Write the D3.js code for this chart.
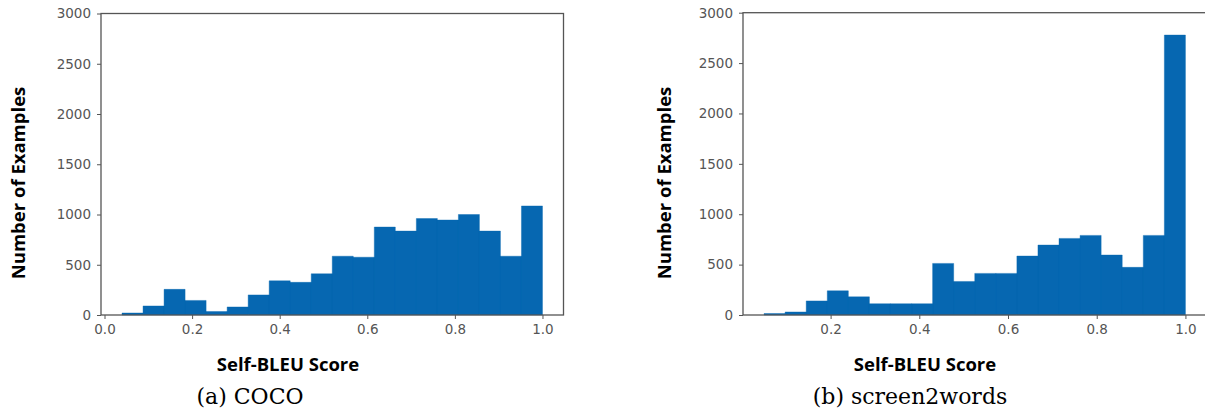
<!DOCTYPE html>
<html>
<head>
<meta charset="utf-8">
<script src="https://cdn.jsdelivr.net/npm/d3@7"></script>
<style>
  body { margin: 0; background: #fff; }
  .tick text { font-family: "DejaVu Sans", sans-serif; font-size: 13.5px; fill: #555; }
  .tick line { stroke: #555; }
  .domain { display: none; }
  .axlabel { font-family: "Open Sans", sans-serif; font-weight: 700; font-size: 18.5px; fill: #000; }
  .caption { font-family: "DejaVu Serif", "Liberation Serif", serif; font-size: 22px; fill: #000; }
</style>
</head>
<body>
<svg id="chart" width="1205" height="415"></svg>
<script>
// histogram counts (20 bins each)
var cocoCounts = [20, 90, 255, 145, 35, 80, 200, 340, 325, 410, 585, 575, 875, 835, 960, 945, 1000, 835, 585, 1085];
var cocoRange = [0.04, 1.0];
var s2wCounts = [15, 30, 140, 240, 180, 112, 112, 112, 512, 333, 413, 413, 585, 694, 760, 790, 595, 473, 790, 2778];
var s2wRange = [0.05, 1.0];

var yTicks = [0, 500, 1000, 1500, 2000, 2500, 3000];
var cocoXTicks = [0.0, 0.2, 0.4, 0.6, 0.8, 1.0];
var s2wXTicks = [0.2, 0.4, 0.6, 0.8, 1.0];

var xLabel = "Self-BLEU Score";
var yLabel = "Number of Examples";

var svg = d3.select('#chart');

function drawPanel(opts) {
    var counts = opts.counts,
        lo = opts.range[0], hi = opts.range[1],
        n = counts.length, w = (hi - lo) / n;
    var bins = counts.map(function(c, i) {
        return {x0: lo + i * w, x1: lo + (i + 1) * w, count: c};
    });
    // matplotlib style 5% margins on x
    var pad = (hi - lo) * 0.05;

    var x = d3.scaleLinear()
        .domain([lo - pad, hi + pad])
        .range([opts.left, opts.right]);
    var y = d3.scaleLinear()
        .domain([0, 3000])
        .range([opts.bottom, opts.top]);

    var g = svg.append("g");

    // one path for all bars so no seams show between them
    var p = d3.path();
    bins.forEach(function(d) {
        p.rect(x(d.x0), y(d.count), x(d.x1) - x(d.x0), y(0) - y(d.count));
    });
    g.append("path")
        .attr("class", "bars")
        .attr("d", p.toString())
        .attr("fill", "#0667b1")
        .attr("stroke", "#0667b1")
        .attr("stroke-width", 0.4);

    g.append("g")
        .attr("transform", "translate(0," + opts.bottom + ")")
        .call(d3.axisBottom(x).tickValues(opts.xTicks).tickFormat(d3.format(".1f")).tickSize(4).tickPadding(5));

    g.append("g")
        .attr("transform", "translate(" + opts.left + ",0)")
        .call(d3.axisLeft(y).tickValues(yTicks).tickFormat(d3.format("d")).tickSize(4).tickPadding(6));

    // frame
    g.append("rect")
        .attr("x", opts.left)
        .attr("y", opts.top)
        .attr("width", opts.right - opts.left)
        .attr("height", opts.bottom - opts.top)
        .attr("fill", "none")
        .attr("stroke", "#555")
        .attr("stroke-width", 1.3);

    g.append("text")
        .attr("class", "axlabel")
        .attr("x", opts.xLabelX)
        .attr("y", 371)
        .attr("text-anchor", "middle")
        .text(xLabel);

    g.append("text")
        .attr("class", "axlabel")
        .attr("transform", "translate(" + opts.yLabelX + ",183) rotate(-90)")
        .attr("text-anchor", "middle")
        .text(yLabel);

    g.append("text")
        .attr("class", "caption")
        .attr("x", opts.captionX)
        .attr("y", 404)
        .attr("text-anchor", "middle")
        .text(opts.caption);
}

drawPanel({
    counts: cocoCounts, range: cocoRange, xTicks: cocoXTicks,
    left: 101, right: 563.5, top: 13.5, bottom: 315,
    xLabelX: 288, yLabelX: 25, captionX: 250, caption: "(a) COCO"
});

drawPanel({
    counts: s2wCounts, range: s2wRange, xTicks: s2wXTicks,
    left: 743, right: 1206.5, top: 12.7, bottom: 315,
    xLabelX: 925, yLabelX: 671, captionX: 910, caption: "(b) screen2words"
});
</script>
</body>
</html>
